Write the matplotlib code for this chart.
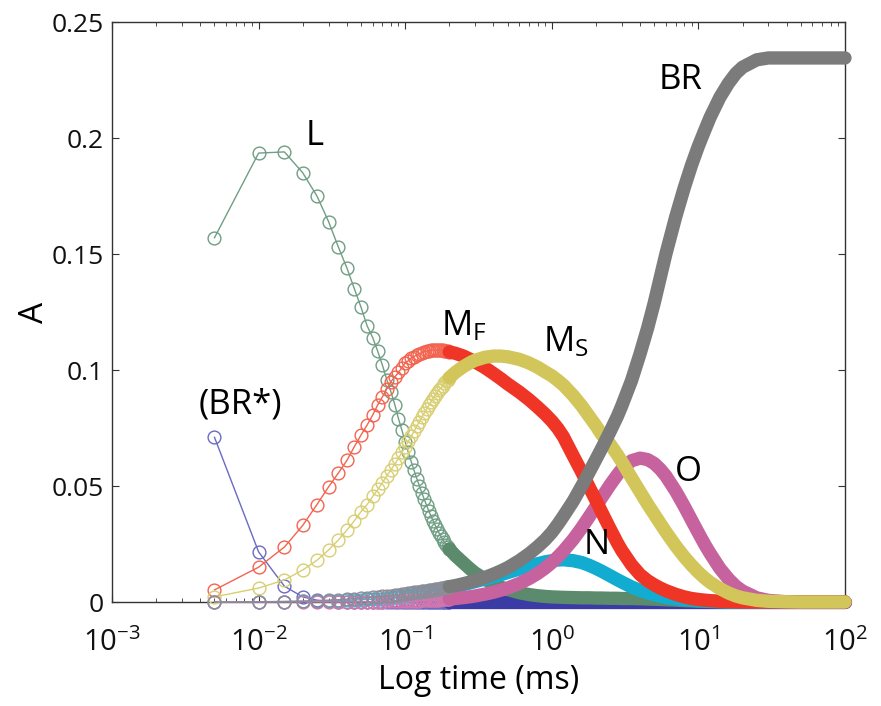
import matplotlib
matplotlib.use("Agg")
import matplotlib.pyplot as plt
from matplotlib.ticker import FixedLocator, LogLocator, NullFormatter, FixedFormatter

plt.rcParams['font.family'] = ['Open Sans', 'DejaVu Sans']
plt.rcParams['mathtext.default'] = 'regular'

# ---- sampled times (ms): early samples drawn as separate circles ----
t_sparse = [0.005, 0.010, 0.015, 0.020, 0.025, 0.030, 0.035, 0.040, 0.045, 0.050,
            0.055, 0.060, 0.065, 0.070, 0.075, 0.080, 0.085, 0.090, 0.095, 0.100,
            0.105, 0.110, 0.115, 0.120, 0.125, 0.130, 0.135, 0.140, 0.145, 0.150,
            0.155, 0.160, 0.165, 0.170, 0.175, 0.180, 0.185, 0.190, 0.195, 0.200]
# later samples, where the circles merge into a solid band
t_dense = [0.2, 0.22, 0.25, 0.28, 0.3, 0.35, 0.4, 0.45, 0.5, 0.6,
           0.7, 0.8, 0.9, 1.0, 1.1, 1.2, 1.4, 1.6, 1.8, 2.0,
           2.2, 2.5, 2.8, 3.0, 3.5, 4.0, 4.5, 5.0, 5.5, 6.0,
           7.0, 8.0, 9.0, 10, 11, 12, 14, 16, 18, 20,
           25, 30, 40, 50, 70, 100]

# ---- BR* (blue) ----
brs_sparse = [0.071, 0.0216, 0.0068, 0.0022, 0.0008, 0.0003, 0.0001, 0, 0, 0,
              0, 0, 0, 0, 0, 0, 0, 0, 0, 0,
              0, 0, 0, 0, 0, 0, 0, 0, 0, 0,
              0, 0, 0, 0, 0, 0, 0, 0, 0, 0]
brs_dense = [0, 0, 0, 0, 0, 0, 0, 0, 0, 0,
             0, 0, 0, 0, 0, 0, 0, 0, 0, 0,
             0, 0, 0, 0, 0, 0, 0, 0, 0, 0,
             0, 0, 0, 0, 0, 0, 0, 0, 0, 0,
             0, 0, 0, 0, 0, 0]

# ---- L (green) ----
l_sparse = [0.157, 0.1935, 0.194, 0.185, 0.175, 0.164, 0.153, 0.144, 0.135, 0.127,
            0.119, 0.114, 0.108, 0.102, 0.0957, 0.0905, 0.085, 0.079, 0.074, 0.069,
            0.0645, 0.0605, 0.0567, 0.0532, 0.0500, 0.0470, 0.0442, 0.0416, 0.0392, 0.0370,
            0.0350, 0.0331, 0.0314, 0.0298, 0.0283, 0.0270, 0.0258, 0.0247, 0.0237, 0.0228]
l_dense = [0.0228, 0.0200, 0.0168, 0.0140, 0.0125, 0.0098, 0.0078, 0.0064, 0.0054, 0.0040,
           0.0032, 0.0027, 0.0024, 0.0022, 0.0021, 0.0020, 0.0019, 0.0018, 0.0018, 0.0017,
           0.0017, 0.0016, 0.0016, 0.0015, 0.0015, 0.0014, 0.0013, 0.0012, 0.0011, 0.0010,
           0.0008, 0.0006, 0.0005, 0.0004, 0.0003, 0.0002, 0.0001, 0, 0, 0,
           0, 0, 0, 0, 0, 0]

# ---- N (cyan) ----
n_sparse = [0, 0.0001, 0.0002, 0.0003, 0.0004, 0.0005, 0.0006, 0.0007, 0.0008, 0.0010,
            0.0011, 0.0012, 0.0014, 0.0015, 0.0017, 0.0018, 0.0020, 0.0022, 0.0024, 0.0026,
            0.0028, 0.0030, 0.0032, 0.0034, 0.0036, 0.0038, 0.0040, 0.0042, 0.0044, 0.0045,
            0.0047, 0.0049, 0.0050, 0.0052, 0.0053, 0.0055, 0.0056, 0.0058, 0.0059, 0.0060]
n_dense = [0.0060, 0.0066, 0.0075, 0.0083, 0.0088, 0.0099, 0.0109, 0.0118, 0.0127, 0.0142,
           0.0155, 0.0165, 0.0173, 0.0178, 0.0181, 0.0182, 0.0178, 0.0170, 0.0158, 0.0145,
           0.0132, 0.0113, 0.0096, 0.0086, 0.0065, 0.0050, 0.0039, 0.0031, 0.0025, 0.0020,
           0.0014, 0.0010, 0.0007, 0.0005, 0.0004, 0.0003, 0.0002, 0.0001, 0, 0,
           0, 0, 0, 0, 0, 0]

# ---- O (pink) ----
o_sparse = [0, 0, 0, 0, 0, 0, 0, 0, 0.0001, 0.0001,
            0.0001, 0.0002, 0.0002, 0.0002, 0.0003, 0.0003, 0.0003, 0.0003, 0.0004, 0.0004,
            0.0004, 0.0005, 0.0005, 0.0006, 0.0006, 0.0007, 0.0007, 0.0008, 0.0008, 0.0008,
            0.0009, 0.0009, 0.0010, 0.0010, 0.0011, 0.0011, 0.0012, 0.0012, 0.0013, 0.0013]
o_dense = [0.0013, 0.0015, 0.0019, 0.0023, 0.0026, 0.0034, 0.0042, 0.0051, 0.0060, 0.0080,
           0.0101, 0.0123, 0.0146, 0.0170, 0.0195, 0.0220, 0.0270, 0.0320, 0.0368, 0.0412,
           0.0452, 0.0505, 0.0548, 0.0572, 0.0609, 0.0620, 0.0614, 0.0597, 0.0572, 0.0543,
           0.0478, 0.0413, 0.0352, 0.0298, 0.0250, 0.0210, 0.0145, 0.0100, 0.0068, 0.0047,
           0.0018, 0.0007, 0.0001, 0, 0, 0]

# ---- M_F (red) ----
mf_sparse = [0.0052, 0.015, 0.0237, 0.033, 0.042, 0.0496, 0.0556, 0.061, 0.067, 0.072,
             0.0763, 0.0806, 0.085, 0.0885, 0.092, 0.095, 0.097, 0.099, 0.101, 0.103,
             0.1040, 0.1050, 0.1058, 0.1065, 0.1070, 0.1075, 0.1078, 0.1081, 0.1083, 0.1085,
             0.1086, 0.1087, 0.1087, 0.1087, 0.1086, 0.1085, 0.1084, 0.1082, 0.1080, 0.1078]
mf_dense = [0.1078, 0.1072, 0.1060, 0.1045, 0.1035, 0.1010, 0.0985, 0.0962, 0.0940, 0.0905,
            0.0872, 0.0840, 0.0810, 0.0780, 0.0748, 0.0712, 0.0630, 0.0560, 0.0495, 0.0438,
            0.0385, 0.0315, 0.0255, 0.0222, 0.0160, 0.0118, 0.0092, 0.0074, 0.0060, 0.0049,
            0.0033, 0.0022, 0.0015, 0.0011, 0.0008, 0.0006, 0.0003, 0.0002, 0.0001, 0,
            0, 0, 0, 0, 0, 0]

# ---- M_S (yellow) ----
ms_sparse = [0.0022, 0.006, 0.0095, 0.0138, 0.018, 0.0224, 0.0267, 0.031, 0.035, 0.039,
             0.042, 0.0455, 0.0485, 0.0515, 0.0545, 0.057, 0.0595, 0.062, 0.0645, 0.067,
             0.0693, 0.0715, 0.0737, 0.0758, 0.0778, 0.0797, 0.0815, 0.0832, 0.0848, 0.0863,
             0.0877, 0.0890, 0.0902, 0.0913, 0.0923, 0.0933, 0.0942, 0.0951, 0.0959, 0.0967]
ms_dense = [0.0967, 0.0990, 0.1015, 0.1033, 0.1042, 0.1055, 0.1060, 0.1060, 0.1057, 0.1046,
            0.1030, 0.1012, 0.0992, 0.0975, 0.0955, 0.0935, 0.0890, 0.0845, 0.0800, 0.0760,
            0.0720, 0.0680, 0.0635, 0.0605, 0.0535, 0.0475, 0.0422, 0.0378, 0.0338, 0.0302,
            0.0242, 0.0195, 0.0158, 0.0128, 0.0104, 0.0085, 0.0058, 0.0039, 0.0026, 0.0018,
            0.0007, 0.0003, 0.0001, 0, 0, 0]

# ---- BR (grey) ----
br_sparse = [0, 0.0001, 0.0002, 0.0004, 0.0006, 0.0008, 0.0010, 0.0012, 0.0014, 0.0016,
             0.0018, 0.0020, 0.0022, 0.0024, 0.0026, 0.0028, 0.0030, 0.0032, 0.0034, 0.0036,
             0.0038, 0.0040, 0.0041, 0.0043, 0.0044, 0.0046, 0.0047, 0.0049, 0.0050, 0.0052,
             0.0053, 0.0055, 0.0056, 0.0058, 0.0059, 0.0060, 0.0062, 0.0063, 0.0064, 0.0066]
br_dense = [0.0066, 0.0071, 0.0079, 0.0087, 0.0092, 0.0106, 0.0120, 0.0134, 0.0148, 0.0178,
            0.0208, 0.0238, 0.0268, 0.0300, 0.0335, 0.0370, 0.0435, 0.0500, 0.0560, 0.0615,
            0.0665, 0.0735, 0.0800, 0.0845, 0.0955, 0.1070, 0.1180, 0.1290, 0.1400, 0.1500,
            0.1660, 0.1785, 0.1885, 0.1965, 0.2030, 0.2088, 0.2175, 0.2235, 0.2278, 0.2305,
            0.2337, 0.2345, 0.2345, 0.2345, 0.2345, 0.2345]

series = [
    # (sparse, dense, circle colour, band colour) -- drawn bottom to top
    (brs_sparse, brs_dense, '#6a6ac4', '#3b3ba6'),
    (l_sparse, l_dense, '#6f9e84', '#5b8a6c'),
    (n_sparse, n_dense, '#35b9d8', '#12acd0'),
    (o_sparse, o_dense, '#d276ae', '#c6629e'),
    (mf_sparse, mf_dense, '#f2644f', '#ee3526'),
    (ms_sparse, ms_dense, '#d8ce72', '#d2c65a'),
    (br_sparse, br_dense, '#8c8c98', '#7b7b7b'),
]

fig = plt.figure(figsize=(8.81, 7.06), dpi=100)
ax = fig.add_axes([112 / 881, 1 - 602 / 706, (845 - 112) / 881, (602 - 22) / 706])

for z, (ys, yd, cl, cb) in enumerate(series):
    ax.plot(t_sparse, ys, '-o', color=cl, lw=1.0, ms=9.2, mfc='none', mew=1.0,
            clip_on=False, zorder=3 + z)
    ax.plot(t_dense, yd, '-', color=cb, lw=9.6, solid_capstyle='round',
            solid_joinstyle='round', clip_on=False, zorder=3 + z)

ax.set_xscale('log')
ax.set_xlim(1e-3, 1e2)
ax.set_ylim(0, 0.25)

ax.xaxis.set_major_locator(FixedLocator([1e-3, 1e-2, 1e-1, 1e0, 1e1, 1e2]))
ax.xaxis.set_major_formatter(FixedFormatter(['$10^{-3}$', '$10^{-2}$', '$10^{-1}$',
                                             '$10^{0}$', '$10^{1}$', '$10^{2}$']))
ax.xaxis.set_minor_locator(LogLocator(base=10, subs=range(2, 10), numticks=20))
ax.xaxis.set_minor_formatter(NullFormatter())
ax.yaxis.set_major_locator(FixedLocator([0, 0.05, 0.1, 0.15, 0.2, 0.25]))
ax.yaxis.set_major_formatter(FixedFormatter(['0', '0.05', '0.1', '0.15', '0.2', '0.25']))

for s in ax.spines.values():
    s.set_color('#333333')
    s.set_linewidth(1.0)
ax.tick_params(which='major', direction='in', length=5, width=0.8, top=True, right=True,
               colors='#333333', labelcolor='#111111')
ax.tick_params(which='minor', direction='in', length=3, width=0.6, top=True, right=True,
               colors='#333333')
ax.tick_params(axis='y', labelsize=19, pad=6)
ax.tick_params(axis='x', labelsize=21, pad=19)

ax.set_xlabel('Log time (ms)', fontsize=23, labelpad=4)
ax.set_ylabel('A', fontsize=24, labelpad=0)

fs = 25
ax.text(0.0243, 0.201, 'L', fontsize=fs, ha='center', va='center', zorder=20)
ax.text(0.0075, 0.085, '(BR*)', fontsize=fs, ha='center', va='center', zorder=20)
ax.text(0.25, 0.119, 'M$_F$', fontsize=fs, ha='center', va='center', zorder=20)
ax.text(1.25, 0.112, 'M$_S$', fontsize=fs, ha='center', va='center', zorder=20)
ax.text(7.5, 0.225, 'BR', fontsize=fs, ha='center', va='center', zorder=20)
ax.text(2.03, 0.0246, 'N', fontsize=fs, ha='center', va='center', zorder=20)
ax.text(8.5, 0.056, 'O', fontsize=fs, ha='center', va='center', zorder=20)

fig.savefig('out.png', dpi=100)
